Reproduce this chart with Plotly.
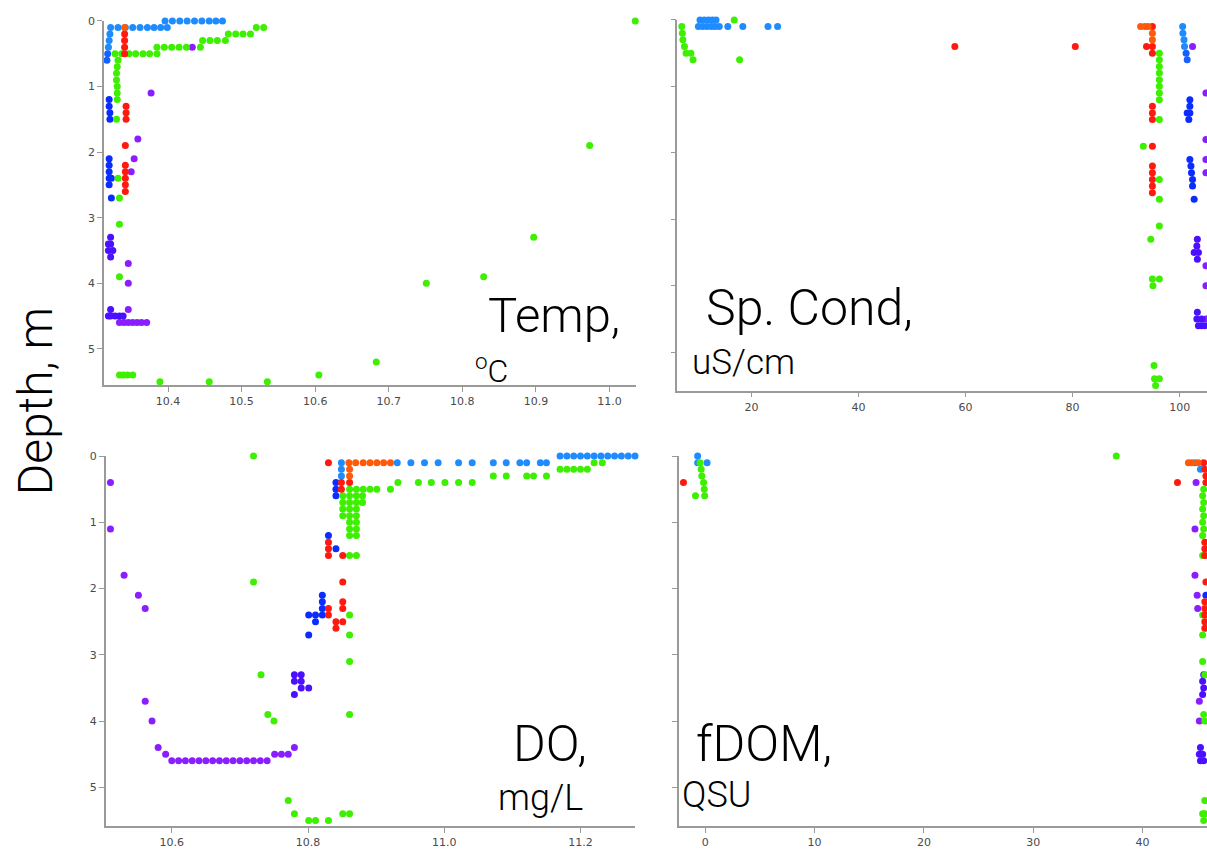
import plotly.graph_objects as go

W, H = 1207, 854

# ---------------- data (depth in m) ----------------
# Temperature, degC
TEMP_SKY_X = [10.396, 10.406, 10.416, 10.426, 10.436, 10.446, 10.456, 10.465, 10.474,
              10.322, 10.332, 10.342, 10.352, 10.362, 10.372, 10.381, 10.390, 10.399,
              10.321, 10.320, 10.319]
TEMP_SKY_D = [0, 0, 0, 0, 0, 0, 0, 0, 0,
              0.1, 0.1, 0.1, 0.1, 0.1, 0.1, 0.1, 0.1, 0.1,
              0.2, 0.3, 0.4]
TEMP_MIDBLUE_X = [10.318, 10.317]
TEMP_MIDBLUE_D = [0.5, 0.6]
TEMP_BLUE_X = [10.320, 10.320, 10.321, 10.321, 10.320, 10.320, 10.320, 10.320, 10.323, 10.320, 10.323]
TEMP_BLUE_D = [1.2, 1.3, 1.4, 1.5, 2.1, 2.2, 2.3, 2.4, 2.4, 2.5, 2.7]
TEMP_INDIGO_X = [10.322, 10.319, 10.322, 10.319, 10.325, 10.322,
                 10.322, 10.319, 10.322, 10.328, 10.334, 10.339]
TEMP_INDIGO_D = [3.3, 3.4, 3.4, 3.5, 3.5, 3.6,
                 4.4, 4.5, 4.5, 4.5, 4.5, 4.5]
TEMP_PURPLE_X = [10.433, 10.377, 10.359, 10.354, 10.350, 10.346, 10.346, 10.346,
                 10.334, 10.340, 10.346, 10.352, 10.358, 10.364, 10.371]
TEMP_PURPLE_D = [0.4, 1.1, 1.8, 2.1, 2.3, 3.7, 4.0, 4.4,
                 4.6, 4.6, 4.6, 4.6, 4.6, 4.6, 4.6]
TEMP_ORANGE_X = [10.341]
TEMP_ORANGE_D = [0.1]
TEMP_RED_X = [10.341, 10.341, 10.341, 10.341, 10.343, 10.343, 10.343, 10.342,
              10.342, 10.342, 10.342, 10.342, 10.342]
TEMP_RED_D = [0.2, 0.3, 0.4, 0.5, 1.3, 1.4, 1.5, 1.9,
              2.2, 2.3, 2.4, 2.5, 2.6]
TEMP_GREEN_X = [11.035, 10.520, 10.530,
                10.482, 10.492, 10.502, 10.512,
                10.447, 10.457, 10.467, 10.478,
                10.385, 10.395, 10.405, 10.415, 10.425, 10.444,
                10.328, 10.337, 10.347, 10.356, 10.366, 10.375, 10.385,
                10.332, 10.331, 10.330, 10.330, 10.331, 10.331, 10.331,
                10.330, 10.332, 10.334, 10.334, 10.334,
                10.334, 10.339, 10.345, 10.352,
                10.389, 10.456, 10.535,
                10.605, 10.683, 10.751, 10.829, 10.897, 10.973]
TEMP_GREEN_D = [0, 0.1, 0.1,
                0.2, 0.2, 0.2, 0.2,
                0.3, 0.3, 0.3, 0.3,
                0.4, 0.4, 0.4, 0.4, 0.4, 0.4,
                0.5, 0.5, 0.5, 0.5, 0.5, 0.5, 0.5,
                0.6, 0.7, 0.8, 0.9, 1.0, 1.1, 1.2,
                1.5, 2.4, 2.7, 3.1, 3.9,
                5.4, 5.4, 5.4, 5.4,
                5.5, 5.5, 5.5,
                5.4, 5.2, 4.0, 3.9, 3.3, 1.9]

# Specific conductance, uS/cm
COND_SKY_X = [10.4, 11.2, 12.0, 12.7, 13.4,
              10.1, 10.9, 11.7, 12.5, 13.2, 14.0, 15.6, 18.4, 23.1, 24.9,
              100.55, 100.6, 100.8, 100.9]
COND_SKY_D = [0, 0, 0, 0, 0,
              0.1, 0.1, 0.1, 0.1, 0.1, 0.1, 0.1, 0.1, 0.1, 0.1,
              0.1, 0.2, 0.3, 0.4]
COND_MIDBLUE_X = [101.2, 101.4]
COND_MIDBLUE_D = [0.5, 0.6]
COND_BLUE_X = [101.9, 101.9, 101.4, 101.9, 101.7, 101.9, 102.1, 102.2, 102.4, 102.4, 102.7]
COND_BLUE_D = [1.2, 1.3, 1.4, 1.4, 1.5, 2.1, 2.2, 2.3, 2.4, 2.5, 2.7]
COND_INDIGO_X = [103.3, 103.2, 102.7, 103.5, 103.3, 103.3, 103.2, 104.1, 103.5, 104.1, 104.7]
COND_INDIGO_D = [3.3, 3.4, 3.5, 3.5, 3.6, 4.4, 4.5, 4.5, 4.6, 4.6, 4.6]
COND_PURPLE_X = [102.4, 104.9, 104.9, 104.9, 104.9, 104.9, 104.9, 104.9]
COND_PURPLE_D = [0.4, 1.1, 1.8, 2.1, 2.3, 3.7, 4.0, 4.5]
COND_ORANGE_X = [92.7, 93.5, 94.1, 94.9, 94.9]
COND_ORANGE_D = [0.1, 0.1, 0.1, 0.2, 0.3]
COND_RED_X = [94.9, 93.8, 94.9, 94.9, 58.0, 80.5, 94.9, 94.9, 94.9, 94.9,
              94.9, 94.9, 94.9, 94.9, 94.9]
COND_RED_D = [0.1, 0.4, 0.4, 0.5, 0.4, 0.4, 1.3, 1.4, 1.5, 1.9,
              2.2, 2.3, 2.4, 2.5, 2.6]
COND_GREEN_X = [16.8, 7.0, 7.1, 7.2, 7.5, 7.8, 8.7, 9.1, 17.8,
                96.2, 96.2, 96.2, 96.2, 96.2, 96.2, 96.2, 96.2,
                96.2, 93.2, 96.2, 96.2, 96.2, 94.6, 94.9, 96.2, 95.0,
                95.2, 95.3, 96.2, 95.5]
COND_GREEN_D = [0, 0.1, 0.2, 0.3, 0.4, 0.5, 0.5, 0.6, 0.6,
                0.5, 0.6, 0.7, 0.8, 0.9, 1.0, 1.1, 1.2,
                1.5, 1.9, 2.4, 2.7, 3.1, 3.3, 3.9, 3.9, 4.0,
                5.2, 5.4, 5.4, 5.5]

# Dissolved oxygen, mg/L
DO_SKY_X = [10.849, 10.849, 10.849,
            10.931, 10.951, 10.971, 10.991, 11.021, 11.041, 11.072, 11.091, 11.111, 11.121, 11.141, 11.150,
            11.170, 11.180, 11.190, 11.200, 11.210, 11.220, 11.230, 11.240, 11.250, 11.260, 11.270, 11.280]
DO_SKY_D = [0.1, 0.2, 0.3,
            0.1, 0.1, 0.1, 0.1, 0.1, 0.1, 0.1, 0.1, 0.1, 0.1, 0.1, 0.1,
            0, 0, 0, 0, 0, 0, 0, 0, 0, 0, 0, 0]
DO_BLUE_X = [10.841, 10.841, 10.841, 10.830, 10.841,
             10.821, 10.821, 10.821, 10.801, 10.811, 10.821, 10.811, 10.801]
DO_BLUE_D = [0.4, 0.5, 0.6, 1.2, 1.4,
             2.1, 2.2, 2.3, 2.4, 2.4, 2.4, 2.5, 2.7]
DO_INDIGO_X = [10.780, 10.790, 10.780, 10.790, 10.790, 10.801, 10.780]
DO_INDIGO_D = [3.3, 3.3, 3.4, 3.4, 3.5, 3.5, 3.6]
DO_PURPLE_X = [10.510, 10.510, 10.530, 10.551, 10.561, 10.561, 10.571, 10.580, 10.591,
               10.600, 10.610, 10.620, 10.630, 10.640, 10.650, 10.660, 10.670,
               10.680, 10.690, 10.700, 10.710, 10.720, 10.730, 10.740,
               10.751, 10.761, 10.771, 10.780]
DO_PURPLE_D = [0.4, 1.1, 1.8, 2.1, 2.3, 3.7, 4.0, 4.4, 4.5,
               4.6, 4.6, 4.6, 4.6, 4.6, 4.6, 4.6, 4.6,
               4.6, 4.6, 4.6, 4.6, 4.6, 4.6, 4.6,
               4.5, 4.5, 4.5, 4.4]
DO_ORANGE_X = [10.860, 10.870, 10.881, 10.891, 10.901, 10.911, 10.921, 10.861, 10.861]
DO_ORANGE_D = [0.1, 0.1, 0.1, 0.1, 0.1, 0.1, 0.1, 0.2, 0.3]
DO_RED_X = [10.830, 10.861, 10.849, 10.849, 10.830, 10.830, 10.830, 10.851, 10.851,
            10.851, 10.851, 10.830, 10.830, 10.841, 10.851, 10.841]
DO_RED_D = [0.1, 0.4, 0.4, 0.5, 1.3, 1.4, 1.5, 1.5, 1.9,
            2.2, 2.3, 2.3, 2.4, 2.5, 2.5, 2.6]
DO_GREEN_X = [10.720, 10.720, 10.731, 10.741, 10.750, 10.771, 10.780, 10.801, 10.811, 10.830, 10.851, 10.861,
              10.861, 10.861, 10.861, 10.861,
              10.861, 10.871, 10.881, 10.891, 10.901, 10.921,
              10.932, 10.962, 10.981, 11.001, 11.021, 11.041,
              11.072, 11.091, 11.121, 11.131, 11.150,
              11.170, 11.180, 11.190, 11.200, 11.210,
              11.220, 11.232,
              10.851, 10.861, 10.871, 10.880,
              10.851, 10.861, 10.871, 10.880,
              10.851, 10.861, 10.871,
              10.851, 10.861, 10.871,
              10.861, 10.871,
              10.861, 10.871,
              10.861, 10.871,
              10.861, 10.871]
DO_GREEN_D = [0, 1.9, 3.3, 3.9, 4.0, 5.2, 5.4, 5.5, 5.5, 5.5, 5.4, 5.4,
              2.4, 2.7, 3.1, 3.9,
              0.5, 0.5, 0.5, 0.5, 0.5, 0.5,
              0.4, 0.4, 0.4, 0.4, 0.4, 0.4,
              0.3, 0.3, 0.3, 0.3, 0.3,
              0.2, 0.2, 0.2, 0.2, 0.2,
              0.1, 0.1,
              0.6, 0.6, 0.6, 0.6,
              0.7, 0.7, 0.7, 0.7,
              0.8, 0.8, 0.8,
              0.9, 0.9, 0.9,
              1.0, 1.0,
              1.1, 1.1,
              1.2, 1.2,
              1.5, 1.5]

# fDOM, QSU
FDOM_SKY_X = [-0.7, -0.7, 0.16, 44.8, 45.3]
FDOM_SKY_D = [0, 0.1, 0.1, 0.1, 0.2]
FDOM_BLUE_X = [45.8]
FDOM_BLUE_D = [2.1]
FDOM_INDIGO_X = [45.6, 45.5, 45.6, 45.5, 45.3, 45.2, 45.5, 45.3, 45.6]
FDOM_INDIGO_D = [3.3, 3.4, 3.5, 3.6, 4.4, 4.5, 4.5, 4.6, 4.6]
FDOM_PURPLE_X = [44.9, 44.8, 44.8, 45.0, 45.05, 45.2, 45.2]
FDOM_PURPLE_D = [0.4, 1.1, 1.8, 2.1, 2.3, 3.7, 4.0]
FDOM_ORANGE_X = [44.2, 44.5, 45.1]
FDOM_ORANGE_D = [0.1, 0.1, 0.1]
FDOM_RED_X = [-2.0, 43.2, 45.8, 45.6, 45.7, 45.8, 45.7, 45.7, 45.7, 45.8,
              45.7, 45.7, 45.7, 45.7, 45.7]
FDOM_RED_D = [0.4, 0.4, 0.4, 0.1, 0.2, 0.3, 1.3, 1.4, 1.5, 1.9,
              2.2, 2.3, 2.4, 2.5, 2.6]
FDOM_GREEN_X = [-0.48, -0.38, -0.32, -0.16, -0.10, -0.90, -0.06, 37.6,
                45.6, 45.5, 45.6, 45.5, 45.6, 45.5, 45.6, 45.5,
                45.5, 45.5, 45.5, 45.5, 45.7, 45.6, 45.7, 45.7, 45.5, 45.7, 45.6]
FDOM_GREEN_D = [0.1, 0.2, 0.3, 0.4, 0.5, 0.6, 0.6, 0,
                0.5, 0.6, 0.7, 0.8, 0.9, 1.0, 1.1, 1.2,
                1.5, 2.4, 2.7, 3.1, 3.3, 3.9, 4.0, 5.2, 5.4, 5.4, 5.5]

DEPTH_TICKS = [0, 1, 2, 3, 4, 5]

# ---------------- styling ----------------
SKY = "#1E8CFF"
MIDBLUE = "#1560FF"
BLUE = "#0A2CFF"
INDIGO = "#4A10FF"
PURPLE = "#8A1EFF"
ORANGE = "#FF5A0A"
RED = "#FF1A10"
GREEN = "#3DF000"

AXIS_COL = "#9a9a9a"
TICK_FONT = dict(family="DejaVu Sans", size=11, color="#4a4a4a")
TEXT_FONT = "Roboto"


def px_x(p):
    return p / W


def px_y(p):
    return 1 - p / H


panels = [
    dict(ax="", xdom=(104, 636), ydom=(15, 382), xr=[10.313, 11.036], yr=[5.556, 0],
         dtick=0.1, tick0=10.0, fmt=".1f", ylab=True,
         series=[(TEMP_PURPLE_X, TEMP_PURPLE_D, PURPLE), (TEMP_INDIGO_X, TEMP_INDIGO_D, INDIGO),
                 (TEMP_BLUE_X, TEMP_BLUE_D, BLUE), (TEMP_MIDBLUE_X, TEMP_MIDBLUE_D, MIDBLUE),
                 (TEMP_SKY_X, TEMP_SKY_D, SKY), (TEMP_GREEN_X, TEMP_GREEN_D, GREEN),
                 (TEMP_RED_X, TEMP_RED_D, RED), (TEMP_ORANGE_X, TEMP_ORANGE_D, ORANGE)]),
    dict(ax="2", xdom=(677.4, 1207), ydom=(14, 387.3), xr=[6.18, 105.1], yr=[5.577, 0],
         dtick=20, tick0=0, fmt="d", ylab=False,
         series=[(COND_PURPLE_X, COND_PURPLE_D, PURPLE), (COND_INDIGO_X, COND_INDIGO_D, INDIGO),
                 (COND_BLUE_X, COND_BLUE_D, BLUE), (COND_MIDBLUE_X, COND_MIDBLUE_D, MIDBLUE),
                 (COND_SKY_X, COND_SKY_D, SKY), (COND_GREEN_X, COND_GREEN_D, GREEN),
                 (COND_RED_X, COND_RED_D, RED), (COND_ORANGE_X, COND_ORANGE_D, ORANGE)]),
    dict(ax="3", xdom=(105.7, 635), ydom=(453.3, 825.7), xr=[10.503, 11.28], yr=[5.583, 0],
         dtick=0.2, tick0=10.0, fmt=".1f", ylab=True,
         series=[(DO_PURPLE_X, DO_PURPLE_D, PURPLE), (DO_INDIGO_X, DO_INDIGO_D, INDIGO),
                 (DO_BLUE_X, DO_BLUE_D, BLUE), (DO_SKY_X, DO_SKY_D, SKY),
                 (DO_GREEN_X, DO_GREEN_D, GREEN), (DO_RED_X, DO_RED_D, RED),
                 (DO_ORANGE_X, DO_ORANGE_D, ORANGE)]),
    dict(ax="4", xdom=(679.2, 1207), ydom=(453.3, 825.7), xr=[-2.39, 45.9], yr=[5.583, 0],
         dtick=10, tick0=0, fmt="d", ylab=False,
         series=[(FDOM_PURPLE_X, FDOM_PURPLE_D, PURPLE), (FDOM_INDIGO_X, FDOM_INDIGO_D, INDIGO),
                 (FDOM_BLUE_X, FDOM_BLUE_D, BLUE), (FDOM_SKY_X, FDOM_SKY_D, SKY),
                 (FDOM_GREEN_X, FDOM_GREEN_D, GREEN), (FDOM_RED_X, FDOM_RED_D, RED),
                 (FDOM_ORANGE_X, FDOM_ORANGE_D, ORANGE)]),
]

fig = go.Figure()
layout = dict(
    width=W, height=H, margin=dict(l=0, r=0, t=0, b=0),
    paper_bgcolor="white", plot_bgcolor="white", showlegend=False,
)

for p in panels:
    a = p["ax"]
    for xs, ds, col in p["series"]:
        fig.add_trace(go.Scatter(
            x=xs, y=ds, mode="markers", xaxis="x" + a, yaxis="y" + a,
            marker=dict(size=7, color=col, line=dict(width=0)),
            cliponaxis=False, hoverinfo="skip"))
    layout["xaxis" + a] = dict(
        domain=[px_x(p["xdom"][0]), px_x(p["xdom"][1])], range=p["xr"], anchor="y" + a,
        showline=True, linecolor=AXIS_COL, linewidth=1.5, ticks="outside", ticklen=5,
        tickwidth=1.2, tickcolor=AXIS_COL, dtick=p["dtick"], tick0=p["tick0"],
        tickformat=p["fmt"], tickfont=TICK_FONT, showgrid=False, zeroline=False,
        fixedrange=True)
    layout["yaxis" + a] = dict(
        domain=[px_y(p["ydom"][1]), px_y(p["ydom"][0])], range=p["yr"], anchor="x" + a,
        showline=True, linecolor=AXIS_COL, linewidth=1.5, ticks="outside", ticklen=5,
        tickwidth=1.2, tickcolor=AXIS_COL, tickvals=DEPTH_TICKS,
        showticklabels=p["ylab"], tickfont=TICK_FONT, showgrid=False, zeroline=False,
        fixedrange=True)

fig.update_layout(**layout)


def label(text, x, y, size, xanchor="left", angle=0):
    fig.add_annotation(text=text, x=px_x(x), y=px_y(y), xref="paper", yref="paper",
                       xanchor=xanchor, yanchor="middle", showarrow=False, textangle=angle,
                       font=dict(family=TEXT_FONT, size=size, color="black", weight=300))


label("Depth, m", 35, 398, 48, xanchor="center", angle=-90)
label("Temp,", 486, 312, 49)
label("<sup>o</sup>C", 473, 366, 32)
label("Sp. Cond,", 704, 304, 50)
label("uS/cm", 690, 359, 35)
label("DO,", 511, 743, 50)
label("mg/L", 496, 798, 36)
label("fDOM,", 694, 743, 50)
label("QSU", 680, 795, 36)

fig.write_html("out.html")
